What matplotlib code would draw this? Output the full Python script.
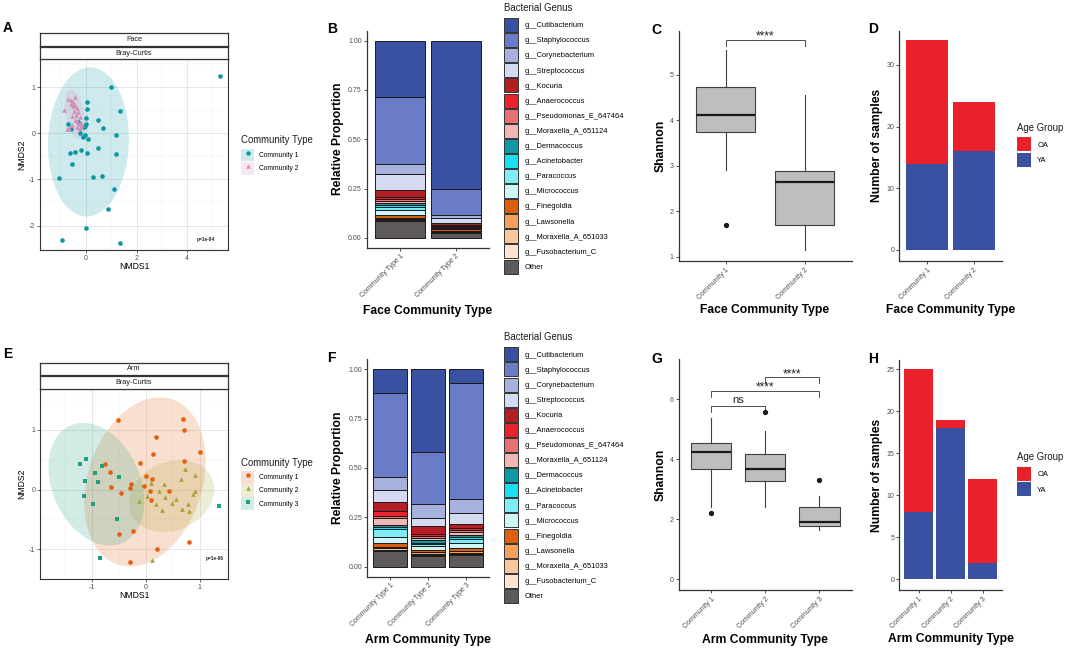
import numpy as np
import matplotlib
matplotlib.use("Agg")
import matplotlib.pyplot as plt
from matplotlib.patches import Rectangle, Polygon
from matplotlib.lines import Line2D

plt.rcParams['font.family'] = ['Liberation Sans', 'DejaVu Sans']

# ---------------- DATA ----------------
# NMDS ordination, Face
face_c1_x = [5.29, 0.97, 1.36, 0.04, 0.04, 0.46, 0.00, 0.67, -0.72, -0.60, 0.00, -0.10, -0.22, -0.05,
             -0.13, 0.07, 1.20, 0.46, -0.21, -0.42, -0.62, 0.04, 1.18, -0.57, -1.08, 0.28, 0.63, 1.09,
             0.88, 0.00, -0.97, 1.34, -0.05, -0.30]
face_c1_y = [1.23, 1.00, 0.47, 0.67, 0.52, 0.28, 0.33, 0.12, 0.19, 0.08, 0.19, 0.13, 0.00, -0.04,
             -0.09, -0.12, -0.04, -0.32, -0.36, -0.41, -0.44, -0.42, -0.45, -0.66, -0.96, -0.94, -0.92, -1.21,
             -1.64, -2.06, -2.31, -2.38, 0.15, 0.25]
face_c2_x = [-0.87, -0.70, -0.59, -0.50, -0.43, -0.53, -0.37, -0.47, -0.30, -0.39, -0.57, -0.24,
             -0.43, -0.34, -0.21, -0.54, -0.37, -0.24, -0.76, -0.66, -0.17, -0.29, -0.60, -0.42]
face_c2_y = [0.51, 0.73, 0.71, 0.67, 0.62, 0.58, 0.55, 0.49, 0.45, 0.40, 0.38, 0.35,
             0.29, 0.26, 0.23, 0.17, 0.14, 0.11, 0.08, 0.12, 0.17, 0.19, 0.64, 0.78]

# NMDS ordination, Arm
arm_c1_x = [-0.51, 0.69, 0.72, 0.19, 1.00, 0.14, -0.10, 0.72, -0.76, -0.66, 0.00, 0.11, -0.28, -0.65,
            -0.04, -0.30, -0.47, 0.07, 0.43, 0.09, -0.50, -0.23, 0.81, 0.20, -0.30]
arm_c1_y = [1.17, 1.18, 0.99, 0.87, 0.63, 0.59, 0.45, 0.47, 0.43, 0.30, 0.22, 0.18, 0.09, 0.05,
            0.06, 0.02, -0.05, -0.02, -0.02, -0.18, -0.75, -0.70, -0.87, -1.00, -1.21]
arm_c2_x = [0.73, 0.92, 0.65, 0.33, 0.10, 0.24, 0.91, 0.03, -0.12, 0.36, 0.56, 0.19, 0.48, 0.87,
            0.78, 0.31, 0.67, 0.81, 0.12]
arm_c2_y = [0.34, 0.24, 0.18, 0.10, 0.11, -0.02, -0.02, -0.11, -0.19, -0.12, -0.16, -0.24, -0.23, -0.08,
            -0.24, -0.34, -0.33, -0.36, -1.17]
arm_c3_x = [-1.12, -1.22, -0.82, -0.95, -1.13, -0.89, -0.50, -1.15, -0.98, -0.54, 1.37, -0.86]
arm_c3_y = [0.51, 0.42, 0.40, 0.27, 0.14, 0.12, 0.21, -0.10, -0.25, -0.49, -0.27, -1.14]

face_p_text = "p=1e-04"
arm_p_text = "p=1e-06"

# Genus composition
genera = ["g__Cutibacterium", "g__Staphylococcus", "g__Corynebacterium", "g__Streptococcus",
          "g__Kocuria", "g__Anaerococcus", "g__Pseudomonas_E_647464", "g__Moraxella_A_651124",
          "g__Dermacoccus", "g__Acinetobacter", "g__Paracoccus", "g__Micrococcus",
          "g__Finegoldia", "g__Lawsonella", "g__Moraxella_A_651033", "g__Fusobacterium_C", "Other"]
genus_colors = ["#3A50A1", "#6A7CC8", "#A6B1DE", "#D5DAF1", "#B31E24", "#E8232A", "#E87272",
                "#F3B6B6", "#0E97A5", "#18DFF4", "#80EDF6", "#CEF6FA", "#DD5E0C", "#F7A05B",
                "#FBC69C", "#FDE3D0", "#5E5A59"]

face_types = ["Community Type 1", "Community Type 2"]
face_type1 = [0.285, 0.342, 0.048, 0.080, 0.040, 0.010, 0.007, 0.013, 0.010, 0.007, 0.017, 0.024,
              0.016, 0.007, 0.005, 0.003, 0.086]
face_type2 = [0.750, 0.135, 0.016, 0.023, 0.012, 0.004, 0.002, 0.003, 0.003, 0.002, 0.003, 0.004,
              0.006, 0.004, 0.004, 0.004, 0.025]

arm_types = ["Community Type 1", "Community Type 2", "Community Type 3"]
arm_type1 = [0.120, 0.424, 0.066, 0.062, 0.048, 0.022, 0.011, 0.034, 0.012, 0.010, 0.040, 0.030,
             0.020, 0.008, 0.006, 0.005, 0.082]
arm_type2 = [0.418, 0.266, 0.070, 0.037, 0.045, 0.006, 0.010, 0.013, 0.012, 0.008, 0.012, 0.018,
             0.008, 0.012, 0.006, 0.004, 0.055]
arm_type3 = [0.072, 0.585, 0.069, 0.058, 0.020, 0.010, 0.008, 0.016, 0.010, 0.012, 0.022, 0.025,
             0.014, 0.010, 0.006, 0.003, 0.060]

# Shannon diversity box statistics
face_groups = ["Community 1", "Community 2"]
face_med = [4.12, 2.65]
face_q1 = [3.74, 1.69]
face_q3 = [4.73, 2.88]
face_whislo = [2.90, 1.15]
face_whishi = [5.55, 4.56]
face_fliers = [[1.69], []]

arm_groups = ["Community 1", "Community 2", "Community 3"]
arm_med = [4.25, 3.68, 1.92]
arm_q1 = [3.67, 3.27, 1.78]
arm_q3 = [4.55, 4.17, 2.40]
arm_whislo = [2.42, 2.42, 1.64]
arm_whishi = [5.39, 4.95, 2.78]
arm_fliers = [[2.22], [5.59], [3.31]]

# significance brackets: (group a, group b, label, y)
face_sig = [(1, 2, "****", 5.77)]
arm_sig = [(1, 2, "ns", 5.78), (1, 3, "****", 6.28), (2, 3, "****", 6.73)]

# Age group counts
age_groups = ["OA", "YA"]
age_colors = ["#E8212B", "#3A50A0"]
face_YA = [14, 16]
face_OA = [20, 8]
arm_YA = [8, 18, 2]
arm_OA = [17, 1, 10]

# ---------------- FIGURE ----------------
W, H = 1065, 649
fig = plt.figure(figsize=(W / 100, H / 100), dpi=100)

TICK_C = "#4D4D4D"
LINE_C = "#333333"


def add_ax(x0, y0, x1, y1):
    return fig.add_axes([x0 / W, 1 - y1 / H, (x1 - x0) / W, (y1 - y0) / H])


def ftext(x, y, s, **kw):
    return fig.text(x / W, 1 - y / H, s, **kw)


def trob_ellipse(x, y, level=0.95, nu=5, npts=101):
    X = np.column_stack([x, y]).astype(float)
    n, p = X.shape
    loc = X.mean(axis=0)
    w = np.ones(n)
    for _ in range(200):
        w0 = w.copy()
        Xc = X - loc
        sw = np.sqrt(w / w.sum())
        _, d, Vt = np.linalg.svd(sw[:, None] * Xc, full_matrices=False)
        wX = Xc @ Vt.T @ np.diag(1.0 / d)
        Q = (wX ** 2).sum(axis=1)
        w = (nu + p) / (nu + Q)
        loc = (w[:, None] * X).sum(axis=0) / w.sum()
        if np.all(np.abs(w - w0) < 1e-6):
            break
    Xc = X - loc
    Z = np.sqrt(w)[:, None] * Xc
    cov = Z.T @ Z / n
    d2 = n - 1
    fq = (d2 / 2.0) * (((1 - level) ** (-2.0 / d2)) - 1)
    radius = np.sqrt(2 * fq)
    ang = np.linspace(0, 2 * np.pi, npts)
    circ = np.column_stack([np.cos(ang), np.sin(ang)])
    R = np.linalg.cholesky(cov).T
    return loc + radius * circ @ R


def style_classic(ax):
    for s in ["top", "right"]:
        ax.spines[s].set_visible(False)
    for s in ["left", "bottom"]:
        ax.spines[s].set_color(LINE_C)
        ax.spines[s].set_linewidth(0.9)
    ax.tick_params(axis="both", length=2.2, width=0.6, color=LINE_C, labelsize=5,
                   labelcolor=TICK_C, pad=1.5)


def nmds_panel(rect, strip_rects, strip_texts, groups, xlim, ylim, xticks, yticks, ptext, ptext_pos):
    ax = add_ax(*rect)
    for xs, ys, col, mk in groups:
        ell = trob_ellipse(xs, ys)
        ax.add_patch(Polygon(ell, closed=True, fc=col, alpha=0.2, ec="none", zorder=1))
    for xs, ys, col, mk in groups:
        ax.scatter(xs, ys, s=11, c=col, marker=mk, linewidths=0, zorder=3)
    ax.set_xlim(*xlim)
    ax.set_ylim(*ylim)
    ax.set_xticks(xticks)
    ax.set_yticks(yticks)
    mx = [(a + b) / 2 for a, b in zip(xticks[:-1], xticks[1:])]
    mx = [xticks[0] - (xticks[1] - xticks[0]) / 2] + mx + [xticks[-1] + (xticks[1] - xticks[0]) / 2]
    my = [(a + b) / 2 for a, b in zip(yticks[:-1], yticks[1:])]
    my = [yticks[0] - (yticks[1] - yticks[0]) / 2] + my + [yticks[-1] + (yticks[1] - yticks[0]) / 2]
    ax.set_xticks(mx, minor=True)
    ax.set_yticks(my, minor=True)
    ax.grid(True, which="major", color="#E3E3E3", lw=0.6, zorder=0)
    ax.grid(True, which="minor", color="#EFEFEF", lw=0.35, zorder=0)
    ax.set_axisbelow(True)
    ax.tick_params(which="minor", length=0)
    ax.tick_params(which="major", length=2, width=0.5, color=LINE_C, labelsize=5,
                   labelcolor=TICK_C, pad=1.5)
    ax.set_xticklabels([("%g" % t) for t in xticks])
    ax.set_yticklabels([("%g" % t) for t in yticks])
    for s in ax.spines.values():
        s.set_color(LINE_C)
        s.set_linewidth(0.8)
    ax.text(ptext_pos[0], ptext_pos[1], ptext, transform=ax.transAxes, fontsize=3.4,
            fontweight="bold", ha="center", va="center", color="#222222")
    for r, t in zip(strip_rects, strip_texts):
        sa = add_ax(*r)
        sa.set_xticks([])
        sa.set_yticks([])
        sa.set_facecolor("white")
        for s in sa.spines.values():
            s.set_color(LINE_C)
            s.set_linewidth(0.9)
        sa.text(0.5, 0.5, t, transform=sa.transAxes, fontsize=5.2, color="#1A1A1A",
                ha="center", va="center")
    return ax


def key_legend(handles, labels, title, x_key, y_key_top, title_y, fs, key_px, step_px, gap_px):
    key_pt = key_px * 0.72
    hh = (key_pt / fs - 0.245) / 0.65
    hl = key_pt / fs
    ls = (step_px - key_px) * 0.72 / fs
    tp = gap_px * 0.72 / fs
    fig.legend(handles, labels, loc="upper left", bbox_to_anchor=(x_key / W, 1 - y_key_top / H),
               frameon=False, fontsize=fs, handlelength=hl, handleheight=hh, labelspacing=ls,
               handletextpad=tp, borderpad=0, borderaxespad=0)
    ftext(x_key - 0.5, title_y, title, fontsize=6.9, ha="left", va="center", color="#1A1A1A")


def community_legend(groups, labels, x, key_top, title_y):
    handles = []
    for xs, ys, col, mk in groups:
        handles.append((Rectangle((0, 0), 1, 1, fc=col, alpha=0.2, ec="none"),
                        Line2D([], [], marker=mk, color=col, ls="none", markersize=3.2,
                               markeredgewidth=0)))
    key_legend(handles, labels, "Community Type", x, key_top, title_y, 4.8, 12.7, 13.3, 5.0)


def comp_panel(rect, types, values):
    ax = add_ax(*rect)
    xs = np.arange(1, len(types) + 1)
    vals = np.array(values)
    bottom = np.zeros(len(types))
    for gi in range(len(genera) - 1, -1, -1):
        ax.bar(xs, vals[:, gi], bottom=bottom, width=0.9, color=genus_colors[gi],
               edgecolor="#1A1A1A", linewidth=0.7)
        bottom = bottom + vals[:, gi]
    ax.set_xlim(0.4, len(types) + 0.6)
    ax.set_ylim(-0.05, 1.05)
    ax.set_yticks([0, 0.25, 0.5, 0.75, 1.0])
    ax.set_yticklabels(["0.00", "0.25", "0.50", "0.75", "1.00"])
    ax.set_xticks(xs)
    ax.set_xticklabels(types, rotation=45, ha="right", va="top", rotation_mode="anchor")
    style_classic(ax)
    return ax


def genus_legend(x, key_top, title_y):
    handles = [Rectangle((0, 0), 1, 1, fc=c, ec="#333333", lw=0.7) for c in genus_colors]
    key_legend(handles, genera, "Bacterial Genus", x, key_top, title_y, 5.4, 14.0, 15.1, 6.0)


def box_panel(rect, groups, med, q1, q3, wlo, whi, fl, ylim, yticks, sigs):
    ax = add_ax(*rect)
    stats = []
    for i in range(len(groups)):
        stats.append(dict(med=med[i], q1=q1[i], q3=q3[i], whislo=wlo[i], whishi=whi[i],
                          fliers=fl[i], label=groups[i]))
    ax.bxp(stats, positions=np.arange(1, len(groups) + 1), widths=0.75, patch_artist=True,
           showcaps=False,
           boxprops=dict(facecolor="#BEBEBE", edgecolor="#3F3F3F", linewidth=0.8),
           whiskerprops=dict(color="#3F3F3F", linewidth=0.8),
           medianprops=dict(color="#1A1A1A", linewidth=1.6),
           flierprops=dict(marker="o", markerfacecolor="#1A1A1A", markeredgecolor="#1A1A1A",
                           markersize=2.8))
    ax.set_xlim(0.4, len(groups) + 0.6)
    ax.set_ylim(*ylim)
    ax.set_yticks(yticks)
    ax.set_xticks(np.arange(1, len(groups) + 1))
    ax.set_xticklabels(groups, rotation=45, ha="right", va="top", rotation_mode="anchor")
    style_classic(ax)
    rng = ylim[1] - ylim[0]
    for a, b, lab, yy in sigs:
        tip = 0.025 * rng
        ax.plot([a, a, b, b], [yy - tip, yy, yy, yy - tip], color="#333333", lw=0.6,
                clip_on=False)
        if lab == "ns":
            ax.text((a + b) / 2, yy + 0.004 * rng, lab, ha="center", va="bottom", fontsize=8,
                    color="#222222")
        else:
            ax.text((a + b) / 2, yy - 0.012 * rng, lab, ha="center", va="bottom", fontsize=8.5,
                    color="#222222")
    return ax


def age_panel(rect, groups, ya, oa, ylim, yticks):
    ax = add_ax(*rect)
    xs = np.arange(1, len(groups) + 1)
    ax.bar(xs, ya, width=0.9, color=age_colors[1], edgecolor="none")
    ax.bar(xs, oa, bottom=ya, width=0.9, color=age_colors[0], edgecolor="none")
    ax.set_xlim(0.4, len(groups) + 0.6)
    ax.set_ylim(*ylim)
    ax.set_yticks(yticks)
    ax.set_xticks(xs)
    ax.set_xticklabels(groups, rotation=45, ha="right", va="top", rotation_mode="anchor")
    style_classic(ax)
    return ax


def age_legend(x, key_top, title_y):
    handles = [Rectangle((0, 0), 1, 1, fc=c, ec="none") for c in age_colors]
    key_legend(handles, age_groups, "Age Group", x, key_top, title_y, 5.4, 14.0, 15.4, 6.0)


BOLD = dict(fontweight="bold", fontsize=8.7, color="black")

# ---- A ----
face_groups_pts = [(face_c1_x, face_c1_y, "#0C97A5", "o"), (face_c2_x, face_c2_y, "#D68CB8", "^")]
nmds_panel((40, 59.3, 228, 250), [(40, 33.3, 228, 45.7), (40, 47, 228, 59.3)],
           ["Face", "Bray-Curtis"], face_groups_pts, (-1.82, 5.61), (-2.53, 1.6),
           [0, 2, 4], [-2, -1, 0, 1], face_p_text, (0.88, 0.056))
ftext(134, 266.7, "NMDS1", fontsize=6.2, ha="center", va="center")
ftext(21.7, 154.7, "NMDS2", fontsize=6.2, ha="center", va="center", rotation=90)
community_legend(face_groups_pts, ["Community 1", "Community 2"], 241.3, 148.7, 140)

# ---- E ----
arm_groups_pts = [(arm_c1_x, arm_c1_y, "#E2600F", "o"), (arm_c2_x, arm_c2_y, "#A5A236", "^"),
                  (arm_c3_x, arm_c3_y, "#22A07D", "s")]
nmds_panel((40, 389, 228, 579.3), [(40, 362.7, 228, 375.3), (40, 376.3, 228, 389)],
           ["Arm", "Bray-Curtis"], arm_groups_pts, (-1.97, 1.53), (-1.41, 1.68),
           [-1, 0, 1], [-1, 0, 1], arm_p_text, (0.93, 0.107))
ftext(134, 596, "NMDS1", fontsize=6.2, ha="center", va="center")
ftext(21.7, 484, "NMDS2", fontsize=6.2, ha="center", va="center", rotation=90)
community_legend(arm_groups_pts, ["Community 1", "Community 2", "Community 3"], 241.3, 470.8, 463.3)

# ---- B ----
comp_panel((367, 30.7, 489, 247.7), face_types, [face_type1, face_type2])
ftext(428, 310.7, "Face Community Type", ha="center", va="center", **BOLD)
ftext(338.3, 139, "Relative Proportion", ha="center", va="center", rotation=90, **BOLD)
genus_legend(504.3, 18, 8)

# ---- F ----
comp_panel((367.3, 359.3, 489, 576.7), arm_types, [arm_type1, arm_type2, arm_type3])
ftext(428, 640, "Arm Community Type", ha="center", va="center", **BOLD)
ftext(338.3, 468, "Relative Proportion", ha="center", va="center", rotation=90, **BOLD)
genus_legend(504.3, 347.3, 337.3)

# ---- C ----
box_panel((678.7, 30.7, 851.7, 261), face_groups, face_med, face_q1, face_q3, face_whislo,
          face_whishi, face_fliers, (0.91, 5.97), [1, 2, 3, 4, 5], face_sig)
ftext(765, 310, "Face Community Type", ha="center", va="center", **BOLD)
ftext(661, 145.8, "Shannon", ha="center", va="center", rotation=90, **BOLD)

# ---- G ----
box_panel((678.7, 359.3, 851.7, 590), arm_groups, arm_med, arm_q1, arm_q3, arm_whislo,
          arm_whishi, arm_fliers, (-0.36, 7.33), [0, 2, 4, 6], arm_sig)
ftext(765, 640, "Arm Community Type", ha="center", va="center", **BOLD)
ftext(661, 474.7, "Shannon", ha="center", va="center", rotation=90, **BOLD)

# ---- D ----
age_panel((899.3, 30.7, 1001.7, 261), face_groups, face_YA, face_OA, (-1.8, 35.56),
          [0, 10, 20, 30])
ftext(950.5, 310, "Face Community Type", ha="center", va="center", **BOLD)
ftext(877.3, 145.8, "Number of samples", ha="center", va="center", rotation=90, **BOLD)
age_legend(1017.3, 137.3, 128.3)

# ---- H ----
age_panel((899.3, 360, 1001.7, 590), arm_groups, arm_YA, arm_OA, (-1.25, 26.1),
          [0, 5, 10, 15, 20, 25])
ftext(950.5, 639.3, "Arm Community Type", ha="center", va="center", **BOLD)
ftext(877.3, 475, "Number of samples", ha="center", va="center", rotation=90, **BOLD)
age_legend(1017.3, 467, 457.3)

# panel letters
for lab, x, y in [("A", 3, 32), ("B", 326.7, 33.3), ("C", 651.7, 34), ("D", 868.3, 33.3),
                  ("E", 3.3, 358.3), ("F", 326.7, 361.7), ("G", 651.7, 363.3), ("H", 868.3, 362.7)]:
    ftext(x, y, lab, fontsize=10, fontweight="bold", ha="left", va="baseline")

fig.savefig("out.png", dpi=100)
